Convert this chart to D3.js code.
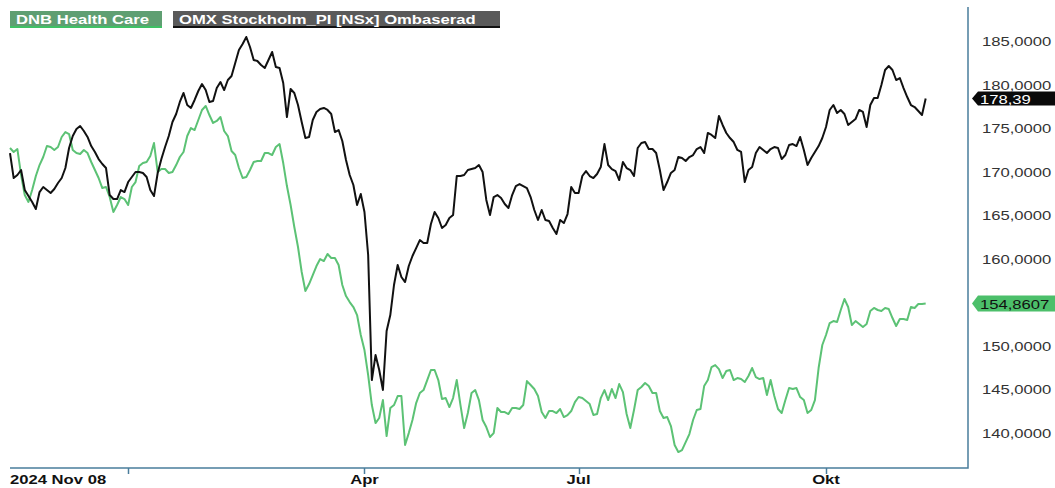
<!DOCTYPE html>
<html>
<head>
<meta charset="utf-8">
<script src="https://cdn.jsdelivr.net/npm/d3@7"></script>
<style>
  html, body { margin: 0; padding: 0; background: #fff; }
  svg { display: block; font-family: "Liberation Sans", Arial, sans-serif; }
</style>
</head>
<body>
<div id="chart"></div>
<script>
// data, one value per trading day from 2024 Nov 08
const seriesNames = ['DNB Health Care', 'OMX Stockholm_PI [NSx] Ombaserad'];
const startLabel = '2024 Nov 08';
const xTickDays = [32, 96, 154, 221];
const xTickLabels = ['', 'Apr', 'Jul', 'Okt'];
const yTicks = [140, 145, 150, 155, 160, 165, 170, 175, 180, 185];

const omxValues = [
  172.14, 169.27, 169.62, 170.19, 167.89, 167.20, 166.52, 165.71, 167.66, 168.24,
  167.89, 167.55, 168.01, 168.70, 169.27, 170.42, 172.72, 174.09, 174.90, 175.24,
  174.67, 173.98, 172.94, 172.26, 171.45, 170.88, 170.42, 167.32, 166.86, 166.86,
  167.89, 167.66, 168.81, 169.39, 169.96, 169.96, 169.85, 169.39, 167.89, 167.20,
  169.85, 171.45, 172.83, 174.09, 175.70, 176.62, 178.00, 179.03, 177.65, 177.31,
  178.23, 179.26, 180.06, 179.37, 178.00, 178.11, 179.60, 180.29, 179.37, 180.52,
  180.98, 182.47, 183.97, 184.66, 185.46, 184.31, 182.82, 182.70, 182.24, 181.90,
  182.82, 183.74, 182.01, 181.90, 180.18, 176.27, 179.49, 179.03, 177.65, 175.70,
  173.86, 173.98, 175.93, 176.85, 177.19, 177.31, 177.08, 176.62, 174.55, 174.78,
  173.52, 171.34, 169.62, 168.47, 166.17, 167.43, 165.37, 160.43, 146.08, 148.95,
  147.23, 144.93, 151.71, 153.54, 156.99, 159.28, 157.91, 157.33, 159.17, 160.32,
  161.23, 162.15, 161.81, 161.81, 163.99, 165.37, 164.68, 163.53, 163.88, 164.68,
  165.02, 169.50, 169.50, 169.62, 170.19, 170.30, 170.42, 170.76, 169.96, 166.75,
  165.02, 167.09, 167.32, 166.98, 166.29, 165.83, 167.32, 168.35, 168.58, 168.35,
  168.12, 167.09, 165.60, 164.45, 165.60, 164.45, 164.33, 163.53, 162.84, 164.45,
  164.10, 165.14, 168.24, 167.55, 167.55, 169.50, 170.07, 169.50, 169.27, 169.73,
  170.53, 173.17, 170.76, 170.30, 170.07, 169.04, 171.11, 170.42, 170.19, 169.50,
  172.72, 173.29, 173.40, 172.60, 172.60, 172.14, 170.19, 167.89, 168.81, 169.85,
  170.19, 171.68, 171.57, 171.22, 171.68, 171.91, 172.60, 172.83, 172.14, 174.44,
  174.21, 173.86, 176.39, 175.36, 174.44, 173.86, 173.40, 172.49, 172.26, 168.81,
  170.19, 170.53, 172.14, 172.83, 172.49, 172.14, 172.60, 172.83, 172.72, 171.45,
  171.91, 173.06, 173.17, 172.94, 173.98, 172.49, 170.76, 171.57, 172.26, 172.94,
  173.86, 175.13, 177.08, 177.65, 176.73, 177.08, 176.62, 175.36, 175.70, 176.04,
  177.08, 176.85, 175.13, 177.65, 178.46, 178.46, 179.95, 181.67, 182.13, 181.67,
  180.52, 180.75, 179.60, 178.57, 177.65, 177.42, 176.96, 176.50, 178.39
];

const dnbValues = [
  172.72, 172.26, 172.60, 169.62, 167.32, 166.52, 167.89, 169.50, 170.76, 171.68,
  172.94, 172.83, 172.49, 172.83, 173.98, 174.55, 174.32, 172.49, 172.14, 172.03,
  172.49, 172.14, 171.11, 170.19, 169.27, 168.12, 168.24, 167.09, 165.37, 166.17,
  167.09, 166.86, 166.17, 168.24, 168.81, 170.65, 170.99, 171.11, 171.80, 173.29,
  169.96, 170.30, 170.30, 169.85, 169.96, 170.76, 171.68, 172.26, 174.09, 175.01,
  174.78, 175.93, 177.08, 177.54, 176.50, 175.59, 175.82, 176.27, 174.67, 174.09,
  172.37, 171.91, 170.42, 169.27, 169.39, 170.19, 171.11, 171.22, 171.22, 172.14,
  172.14, 171.91, 172.83, 173.17, 170.99, 168.35, 166.17, 163.65, 161.35, 158.48,
  156.30, 157.10, 158.13, 159.17, 159.97, 159.74, 160.55, 160.09, 160.09, 159.28,
  156.99, 155.72, 155.03, 154.46, 153.54, 151.25, 149.52, 146.65, 143.21, 141.14,
  141.72, 143.78, 139.65, 142.87, 143.21, 144.24, 144.24, 138.62, 139.99, 141.49,
  143.44, 144.59, 144.93, 146.08, 147.23, 147.23, 146.08, 143.90, 144.01, 142.98,
  144.01, 146.08, 143.21, 140.57, 142.29, 144.59, 144.93, 143.78, 141.49, 140.68,
  139.54, 139.99, 142.87, 142.41, 142.41, 142.18, 142.87, 142.87, 142.75, 143.21,
  145.96, 145.51, 145.05, 144.24, 142.41, 141.72, 142.52, 142.52, 142.29, 142.75,
  141.83, 142.06, 142.52, 143.55, 144.13, 144.01, 143.67, 143.32, 142.06, 142.18,
  144.01, 144.93, 143.78, 145.05, 144.01, 145.62, 144.70, 142.18, 140.57, 142.64,
  144.93, 145.28, 145.74, 145.39, 144.59, 144.59, 142.52, 141.72, 141.83, 140.80,
  138.62, 137.81, 138.04, 138.96, 139.88, 141.49, 142.64, 142.75, 145.39, 146.08,
  147.57, 147.80, 147.34, 146.31, 147.11, 147.23, 146.08, 146.31, 146.19, 145.85,
  146.54, 147.46, 146.42, 146.19, 146.31, 144.36, 146.08, 144.24, 142.75, 142.29,
  143.78, 145.16, 145.05, 145.16, 144.13, 143.78, 142.29, 142.64, 143.78, 147.46,
  150.10, 151.25, 152.62, 152.85, 152.74, 154.12, 155.38, 154.46, 152.39, 152.85,
  152.51, 152.16, 152.51, 154.00, 154.35, 154.12, 154.00, 154.35, 154.23, 153.20,
  152.28, 153.08, 153.08, 152.97, 154.46, 154.35, 154.81, 154.81, 154.8607
];

// constants
const width = 1055;
const height = 488;
const plot = { left: 10, right: 968, top: 7, bottom: 468 };
const axisColor = '#4a7d9c';
const dnbColor = '#5cc275';
const omxColor = '#111111';
const textStretch = 1.28;

const locale = d3.formatLocale({ decimal: ',', thousands: ' ', grouping: [3], currency: ['', ''] });
const fmt4 = locale.format('.4f');
const fmt2 = locale.format('.2f');

let xScale, yScale, $svg;

function stretchedText(parent, x, y, str, anchor) {
  return parent.append('g')
    .attr('transform', `translate(${x},${y}) scale(${textStretch},1)`)
    .append('text')
    .attr('text-anchor', anchor || 'start')
    .text(str);
}

function init() {
  xScale = d3.scaleLinear().domain([0, 260]).range([plot.left, 970]);
  yScale = d3.scaleLinear().domain([140, 185]).range([433, 41]);

  $svg = d3.select('#chart').append('svg')
    .attr('width', width)
    .attr('height', height);

  drawLines();
  drawAxes();
  drawLegend();
  drawTags();
}

function drawLines() {
  const line = d3.line()
    .x((d, i) => xScale(i))
    .y(d => yScale(d));

  $svg.append('path')
    .attr('d', line(dnbValues))
    .style('fill', 'none')
    .style('stroke', dnbColor)
    .style('stroke-width', 2)
    .style('stroke-linejoin', 'round');

  $svg.append('path')
    .attr('d', line(omxValues))
    .style('fill', 'none')
    .style('stroke', omxColor)
    .style('stroke-width', 2)
    .style('stroke-linejoin', 'round');
}

function drawAxes() {
  // frame: bottom and right
  $svg.append('path')
    .attr('d', `M${plot.left},${plot.bottom}H${plot.right}V${plot.top}`)
    .style('fill', 'none')
    .style('stroke', axisColor)
    .style('stroke-width', 1.5);

  const $x = $svg.append('g')
    .style('font-size', '13px')
    .style('font-weight', 'bold')
    .style('fill', '#111');

  $x.selectAll('line')
    .data(xTickDays)
    .enter()
    .append('line')
    .attr('x1', d => Math.round(xScale(d)) + 0.5)
    .attr('x2', d => Math.round(xScale(d)) + 0.5)
    .attr('y1', plot.bottom)
    .attr('y2', plot.bottom + 6)
    .style('stroke', axisColor)
    .style('stroke-width', 1.5);

  stretchedText($x, xScale(0), 484, startLabel);
  xTickDays.forEach((d, i) => {
    if (xTickLabels[i]) stretchedText($x, xScale(d), 484, xTickLabels[i], 'middle');
  });

  const $y = $svg.append('g')
    .style('font-size', '13px')
    .style('fill', '#333');

  yTicks.forEach(v => stretchedText($y, 982, yScale(v) + 5, fmt4(v)));
}

function drawLegend() {
  const $legend = $svg.append('g')
    .style('font-size', '13px')
    .style('font-weight', 'bold')
    .style('fill', '#fff');

  const boxes = [
    { x: 10, w: 152, fill: '#5f9f72', edge: '#3fc165' },
    { x: 173, w: 327, fill: '#5a5a5a', edge: '#111' }
  ];

  boxes.forEach((b, i) => {
    $legend.append('rect')
      .attr('x', b.x).attr('y', 11)
      .attr('width', b.w).attr('height', 16)
      .style('fill', b.fill);
    $legend.append('rect')
      .attr('x', b.x).attr('y', 26)
      .attr('width', b.w).attr('height', 2)
      .style('fill', b.edge);
    stretchedText($legend, b.x + 6, 24, seriesNames[i]);
  });
}

function drawTags() {
  const tags = [
    { value: omxValues[omxValues.length - 1], label: fmt2, fill: '#0a0a0a', text: '#fff', h: 14 },
    { value: dnbValues[dnbValues.length - 1], label: fmt4, fill: '#4cbf6a', text: '#111', h: 16 }
  ];

  tags.forEach(t => {
    const yc = yScale(t.value);
    const half = t.h / 2;
    $svg.append('path')
      .attr('d', `M972,${yc}L978,${yc - half}H1055V${yc + half}H978Z`)
      .style('fill', t.fill);
    stretchedText($svg, 980, yc + 5, t.label(t.value))
      .style('font-size', '13px')
      .style('fill', t.text);
  });
}

init();
</script>
</body>
</html>
